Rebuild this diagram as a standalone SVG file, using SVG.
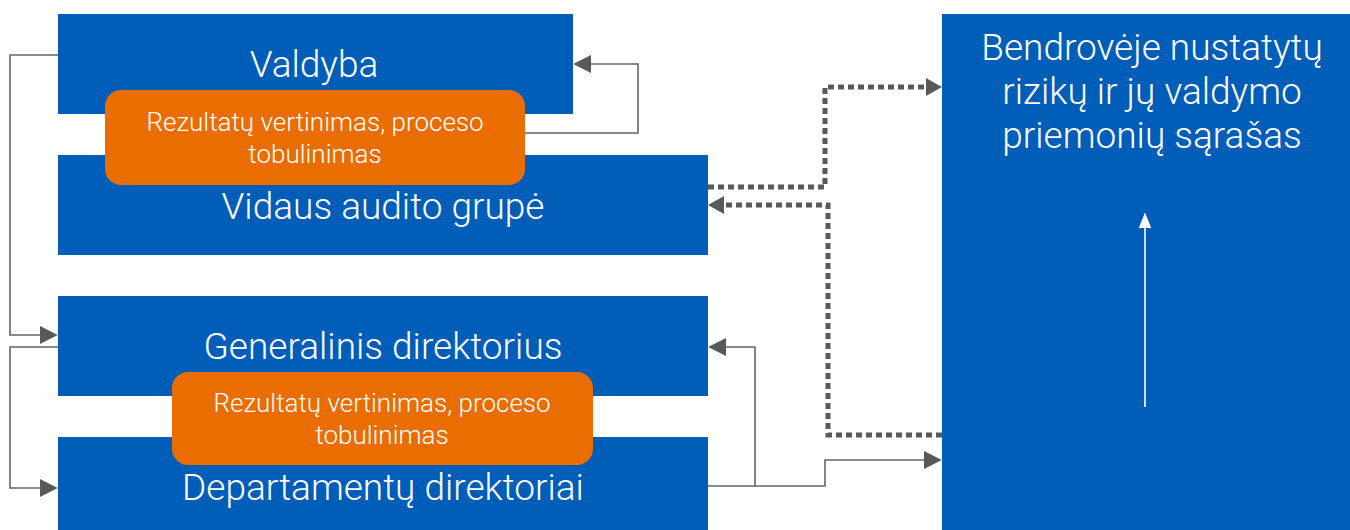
<svg xmlns="http://www.w3.org/2000/svg" width="1350" height="530" viewBox="0 0 1350 530">
<style>
.blue{fill:#005EB8}
.orange{fill:#E96D00}
.t{font-family:Roboto,"Liberation Sans",sans-serif;font-weight:300;fill:#fff;text-anchor:middle}
.big{font-size:37px}
.small{font-size:26px}
.line{fill:none;stroke:#666;stroke-width:1.6}
.dot{fill:none;stroke:#595959;stroke-width:5;stroke-dasharray:6 4}
</style>
<defs>
<marker id="ahBig" viewBox="0 0 10 10" refX="9" refY="5" markerWidth="18" markerHeight="18" orient="auto" markerUnits="userSpaceOnUse">
<path d="M0,0 L10,5 L0,10 z" fill="#595959"/>
</marker>
<marker id="ahW" viewBox="0 0 10 10" refX="9" refY="5" markerWidth="16" markerHeight="16" orient="auto" markerUnits="userSpaceOnUse">
<path d="M0,1 L10,5 L0,9 z" fill="#fff"/>
</marker>
</defs>
<rect width="1350" height="530" fill="#fff"/>
<g id="connectors">
<path class="line" d="M58,55 H10 V335 H56" marker-end="url(#ahBig)"/>
<path class="line" d="M58,347 H10 V488 H56" marker-end="url(#ahBig)"/>
<path class="line" d="M525,133 H638 V64 H575" marker-end="url(#ahBig)"/>
<path class="line" d="M708,486 H755 V347 H710" marker-end="url(#ahBig)"/>
<path class="line" d="M755,486 H825 V460 H940" marker-end="url(#ahBig)"/>
<path class="dot" d="M708,187 H825 V87 H930"/>
<path d="M926,78 L942,87 L926,96 z" fill="#595959"/>
<path class="dot" d="M942,435 H828 V205 H722"/>
<path d="M724,196 L708,205 L724,214 z" fill="#595959"/>
</g>
<g id="valdyba">
<rect class="blue" x="58" y="14" width="515" height="100"/>
<text class="t big" x="314" y="77">Valdyba</text>
</g>
<g id="vidaus">
<rect class="blue" x="58" y="155" width="650" height="100"/>
<text class="t big" x="383" y="219">Vidaus audito grupė</text>
</g>
<g id="rezultatai1">
<rect class="orange" x="105" y="90" width="420" height="95" rx="16"/>
<text class="t small" x="315" y="131">Rezultatų vertinimas, proceso</text>
<text class="t small" x="315" y="163">tobulinimas</text>
</g>
<g id="generalinis">
<rect class="blue" x="58" y="296" width="650" height="100"/>
<text class="t big" x="383" y="359">Generalinis direktorius</text>
</g>
<g id="departamentu">
<rect class="blue" x="58" y="437" width="650" height="93"/>
<text class="t big" x="383" y="500">Departamentų direktoriai</text>
</g>
<g id="rezultatai2">
<rect class="orange" x="172" y="372" width="421" height="93" rx="16"/>
<text class="t small" x="382" y="412">Rezultatų vertinimas, proceso</text>
<text class="t small" x="382" y="444">tobulinimas</text>
</g>
<g id="sarasas">
<rect class="blue" x="942" y="14" width="408" height="516"/>
<text class="t big" x="1152" y="60">Bendrovėje nustatytų</text>
<text class="t big" x="1152" y="104">rizikų ir jų valdymo</text>
<text class="t big" x="1152" y="148">priemonių sąrašas</text>
<path d="M1145,407 V214" stroke="#fff" stroke-width="1.6" fill="none" marker-end="url(#ahW)"/>
</g>
</svg>
